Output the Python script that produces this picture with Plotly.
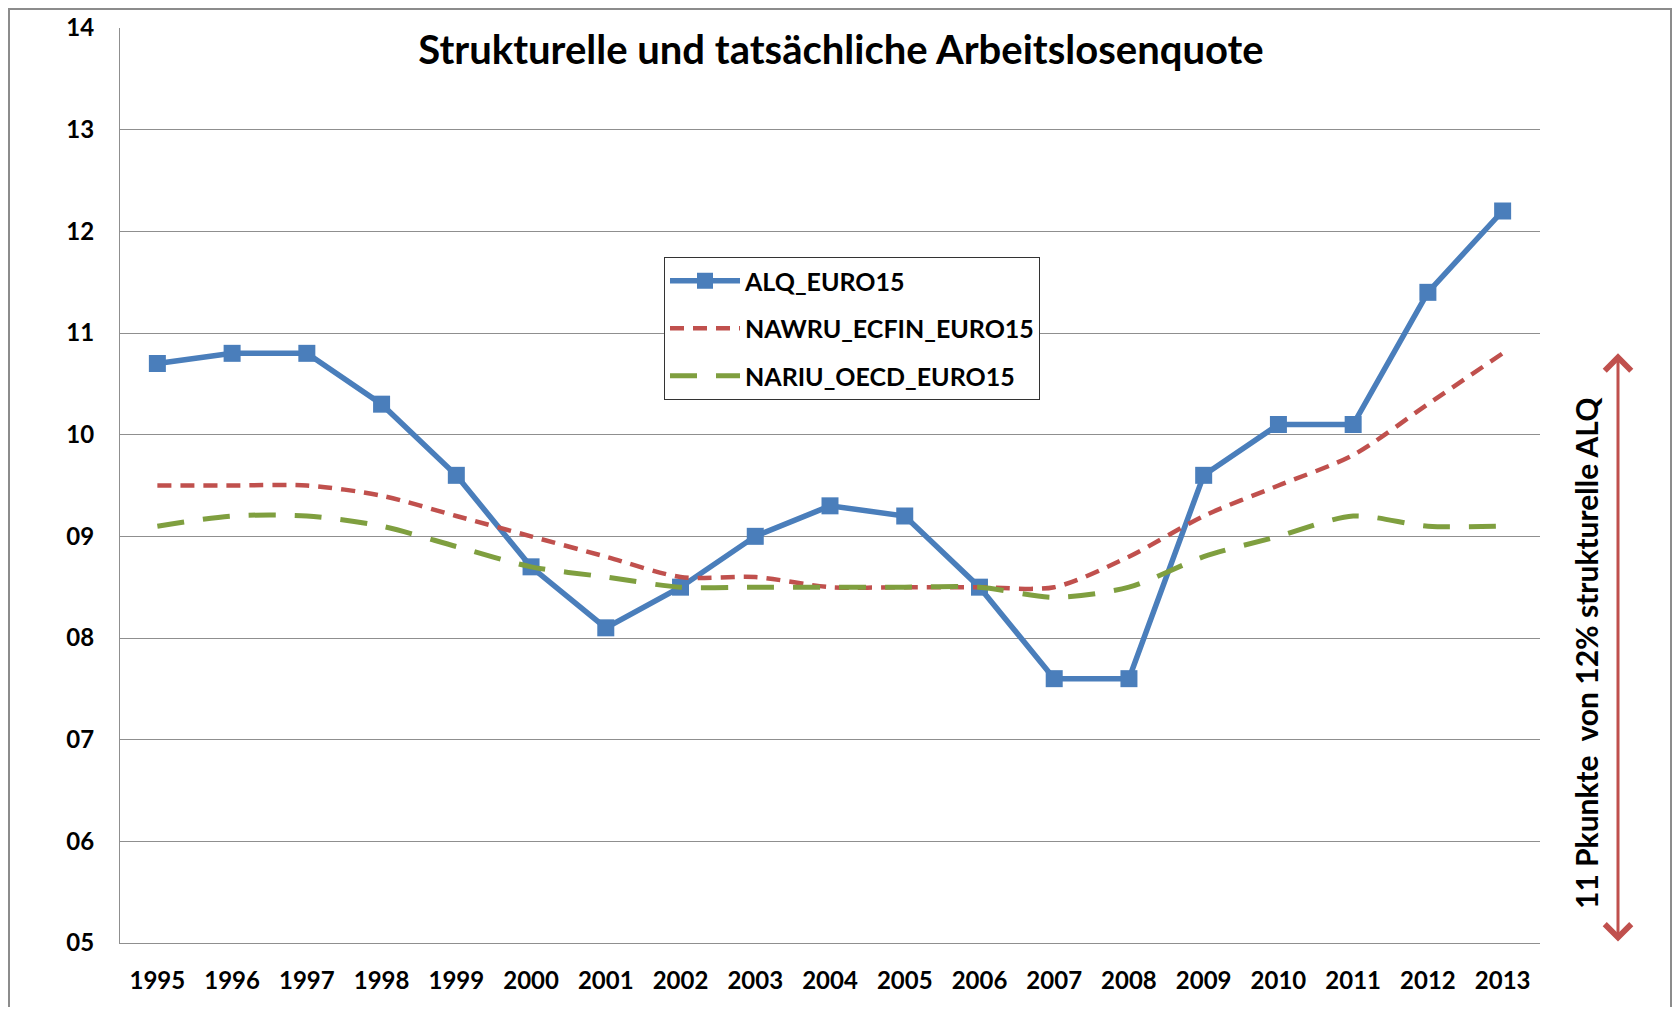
import plotly.graph_objects as go

years = list(range(1995, 2014))
alq = [10.7, 10.8, 10.8, 10.3, 9.6, 8.7, 8.1, 8.5, 9.0, 9.3, 9.2, 8.5, 7.6, 7.6, 9.6, 10.1, 10.1, 11.4, 12.2]
nawru = [9.5, 9.5, 9.5, 9.4, 9.2, 9.0, 8.8, 8.6, 8.6, 8.5, 8.5, 8.5, 8.5, 8.8, 9.2, 9.5, 9.8, 10.3, 10.8]
nariu = [9.1, 9.2, 9.2, 9.1, 8.9, 8.7, 8.6, 8.5, 8.5, 8.5, 8.5, 8.5, 8.4, 8.5, 8.8, 9.0, 9.2, 9.1, 9.1]
ytick_vals = [5, 6, 7, 8, 9, 10, 11, 12, 13, 14]
ytick_text = ["05", "06", "07", "08", "09", "10", "11", "12", "13", "14"]
title_text = "Strukturelle und tatsächliche Arbeitslosenquote"
arrow_text = "11 Pkunkte  von 12% strukturelle ALQ"
arrow_from, arrow_to = 5.0, 10.8

FONT = "Lato"
BLUE = "#4A7EBB"
RED = "#C0504D"
GREEN = "#7F9F3F"

fig = go.Figure()
fig.add_trace(go.Scatter(
    x=years, y=alq, name="ALQ_EURO15", mode="lines+markers", legendgroup="a",
    line=dict(color=BLUE, width=5.5),
    marker=dict(symbol="square", size=17, color=BLUE),
))
fig.add_trace(go.Scatter(
    x=years, y=nawru, name="NAWRU_ECFIN_EURO15", mode="lines", legendgroup="b",
    line=dict(color=RED, width=4.5, dash="14px,9px", shape="spline", smoothing=0.8),
))
fig.add_trace(go.Scatter(
    x=years, y=nariu, name="NARIU_OECD_EURO15", mode="lines", legendgroup="c",
    line=dict(color=GREEN, width=5, dash="27px,19px", shape="spline", smoothing=0.8),
))

OFF = 8  # page body margin
W, H = 1680 - OFF - 1, 1029 - 2 * OFF - 14
L, R, T = 120 - OFF, 1680 - OFF - 1 - 1532, 28 - OFF
B = H - T - (943 - 28)
pw = W - L - R
ph = H - T - B

def px_to_xpaper(px):
    return (px - OFF - L) / pw

def px_to_ypaper(py):
    return (T + ph - (py - OFF)) / ph

fig.update_layout(
    width=W, height=H,
    margin=dict(l=L, r=R, t=T, b=B, autoexpand=False),
    paper_bgcolor="white", plot_bgcolor="white",
    font=dict(family=FONT, color="black"),
    title=dict(text=title_text, x=(841 - OFF) / W, xanchor="center", y=1 - (50 - OFF) / H, yanchor="middle",
               yref="container", xref="container",
               font=dict(family=FONT, size=40, weight="bold", color="black")),
    showlegend=True,
    legend=dict(
        x=px_to_xpaper(664), y=px_to_ypaper(257), xanchor="left", yanchor="top",
        bordercolor="#333333", borderwidth=1, bgcolor="white",
        font=dict(family=FONT, size=25, weight="bold", color="black"),
        itemwidth=70, tracegroupgap=12, traceorder="grouped",
    ),
    xaxis=dict(
        range=[1994.5, 2013.5], tickmode="array", tickvals=years, ticktext=[str(y) for y in years],
        showgrid=False, showline=True, linecolor="#8f8f8f", linewidth=1, zeroline=False,
        ticks="", ticklabelstandoff=16,
        tickfont=dict(family=FONT, size=24, weight="bold", color="black"),
    ),
    yaxis=dict(
        range=[5, 14], tickmode="array", tickvals=ytick_vals, ticktext=ytick_text,
        showgrid=True, gridcolor="#8f8f8f", gridwidth=1,
        showline=True, linecolor="#8f8f8f", linewidth=1, zeroline=False,
        ticks="", ticklabelstandoff=20,
        tickfont=dict(family=FONT, size=24, weight="bold", color="black"),
    ),
    shapes=[
        dict(type="rect", xref="paper", yref="paper",
             x0=px_to_xpaper(9), x1=px_to_xpaper(1671), y0=px_to_ypaper(1040), y1=px_to_ypaper(9),
             line=dict(color="#8c8c8c", width=2), fillcolor="rgba(0,0,0,0)", layer="below"),
    ],
    annotations=[
        dict(x=px_to_xpaper(1618), y=arrow_to, xref="paper", yref="y", ax=0, ay=arrow_from,
             axref="pixel", ayref="y",
             showarrow=True, arrowhead=4, startarrowhead=4, arrowside="end+start",
             arrowcolor=RED, arrowwidth=3, arrowsize=1.7, startarrowsize=1.7, text=""),
        dict(x=px_to_xpaper(1586), y=px_to_ypaper(653), xref="paper", yref="paper",
             text=arrow_text, textangle=-90, showarrow=False, xanchor="center", yanchor="middle",
             font=dict(family=FONT, size=30, weight="bold", color="black")),
    ],
)

fig.write_html("out.html")
